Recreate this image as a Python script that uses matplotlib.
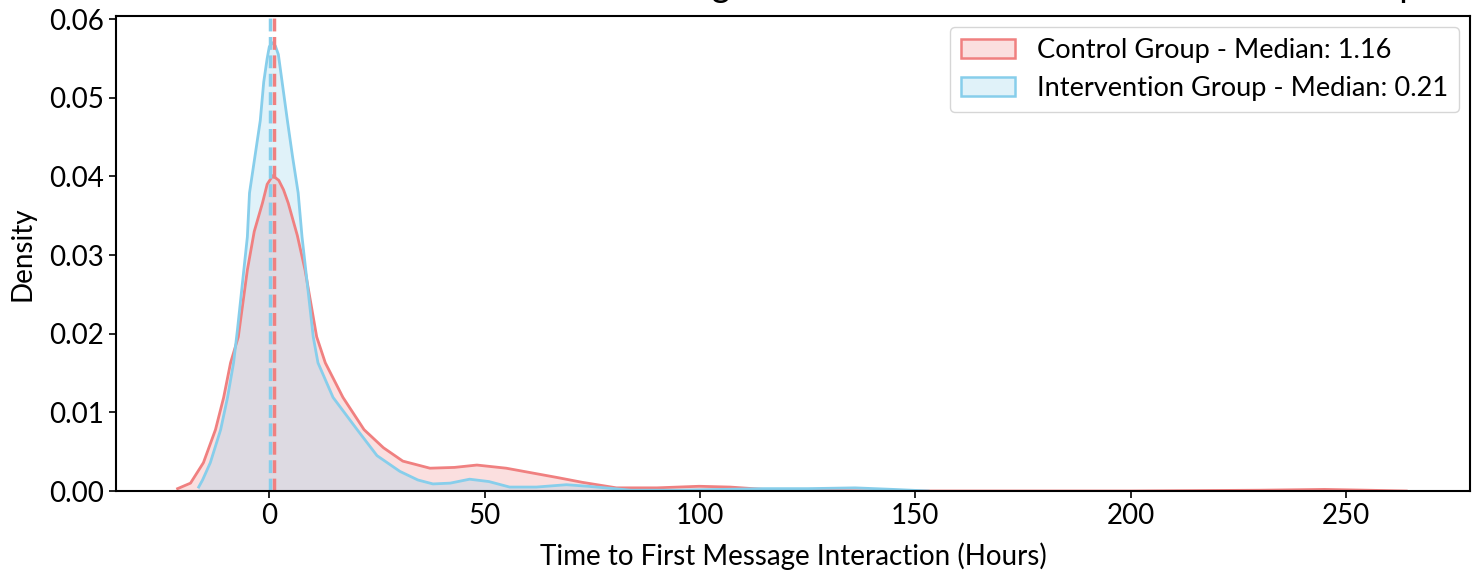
import matplotlib
matplotlib.use("Agg")
import matplotlib.pyplot as plt
from matplotlib.patches import Patch

plt.rcParams['font.family'] = ['Lato', 'DejaVu Sans']

# ---- data (density curves) ----
control_x = [-21.3, -18.3, -15.3, -12.5, -10.6, -9.0, -7.2, -5.1, -3.5, -1.6, -0.5, 0.8,
             2.2, 3.3, 4.4, 6.5, 8.3, 11.0, 13.0, 17.1, 22.0, 26.5, 31.0, 37.3, 43.0, 48.2,
             55.0, 61.0, 67.0, 72.7, 80.6, 90.0, 99.8, 107.0, 115.0, 125.0, 140.0,
             160.0, 200.0, 230.0, 245.0, 255.0, 264.0]
control_y = [0.0003, 0.0010, 0.0036, 0.0078, 0.0119, 0.0163, 0.0196, 0.0281, 0.0330,
             0.0366, 0.0390, 0.0401, 0.0395, 0.0383, 0.0366, 0.0325, 0.0281, 0.0196,
             0.0163, 0.0119, 0.0078, 0.0055, 0.0038, 0.0029, 0.0030, 0.0033, 0.0029,
             0.0023, 0.0017, 0.0011, 0.0004, 0.0004, 0.0006, 0.0005, 0.0002, 0.0001,
             0.0000, 0.0000, 0.0000, 0.0001, 0.0002, 0.0001, 0.0000]

interv_x = [-16.4, -15.5, -13.7, -11.3, -9.7, -8.3, -7.4, -5.1, -4.6, -2.1, -1.3, -0.5,
            0.0, 0.7, 1.4, 2.1, 3.1, 4.2, 5.4, 6.7, 7.6, 10.2, 11.3, 14.8, 20.4, 25.0,
            30.3, 34.5, 38.0, 42.0, 46.5, 51.0, 55.8, 62.0, 69.0, 74.0, 78.0, 84.0, 95.0,
            105.0, 115.0, 125.0, 136.0, 145.0, 153.0]
interv_y = [0.0005, 0.0014, 0.0036, 0.0078, 0.0119, 0.0163, 0.0205, 0.0323, 0.0379,
            0.0471, 0.0520, 0.0550, 0.0565, 0.0570, 0.0566, 0.0555, 0.0515, 0.0471,
            0.0425, 0.0379, 0.0323, 0.0196, 0.0163, 0.0119, 0.0078, 0.0045, 0.0025,
            0.0014, 0.0009, 0.0010, 0.0015, 0.0012, 0.0005, 0.0005, 0.0008, 0.0006,
            0.0004, 0.0001, 0.0001, 0.0002, 0.0003, 0.0003, 0.0004, 0.0002, 0.0000]

groups = ["Control Group", "Intervention Group"]
medians = [1.16, 0.21]
colors = ["#F08080", "#87CEEB"]
title = "Distribution of Time to First Message Interaction: Control vs Intervention Group"
xlabel = "Time to First Message Interaction (Hours)"
ylabel = "Density"

fig = plt.figure(figsize=(14.77, 5.78), dpi=100)
ax = fig.add_axes([116/1477, 1-491/578, (1470-116)/1477, (491-16)/578])

curves = [(control_x, control_y), (interv_x, interv_y)]
handles = []
for (xs, ys), c, g, m in zip(curves, colors, groups, medians):
    ax.fill_between(xs, ys, 0, facecolor=c, alpha=0.25, edgecolor='none')
    ax.plot(xs, ys, color=c, lw=2.0, solid_joinstyle='round')
    handles.append(Patch(facecolor=(*matplotlib.colors.to_rgb(c), 0.25), edgecolor=c,
                         lw=1.8, label=f"{g} - Median: {m:.2f}"))

for c, m in zip(colors, medians):
    ax.axvline(m, color=c, ls='--', lw=2.5)

ax.set_xlim(-35.6, 278.8)
ax.set_ylim(0, 0.0604)
ax.set_xticks([0, 50, 100, 150, 200, 250])
ax.set_yticks([0, 0.01, 0.02, 0.03, 0.04, 0.05, 0.06])
ax.yaxis.set_major_formatter(matplotlib.ticker.FormatStrFormatter('%.2f'))
ax.tick_params(labelsize=20, length=5, width=1.2)
for s in ax.spines.values():
    s.set_linewidth(1.5)
ax.set_xlabel(xlabel, fontsize=20, labelpad=10)
ax.set_ylabel(ylabel, fontsize=20, labelpad=10)
ax.legend(handles=handles, loc='upper right', fontsize=19.6, framealpha=0.8,
          borderaxespad=0.4)
ax.text(0.5, 1.04, title, transform=ax.transAxes, ha='center', va='baseline', fontsize=25.7)

fig.savefig("out.png", dpi=100)
